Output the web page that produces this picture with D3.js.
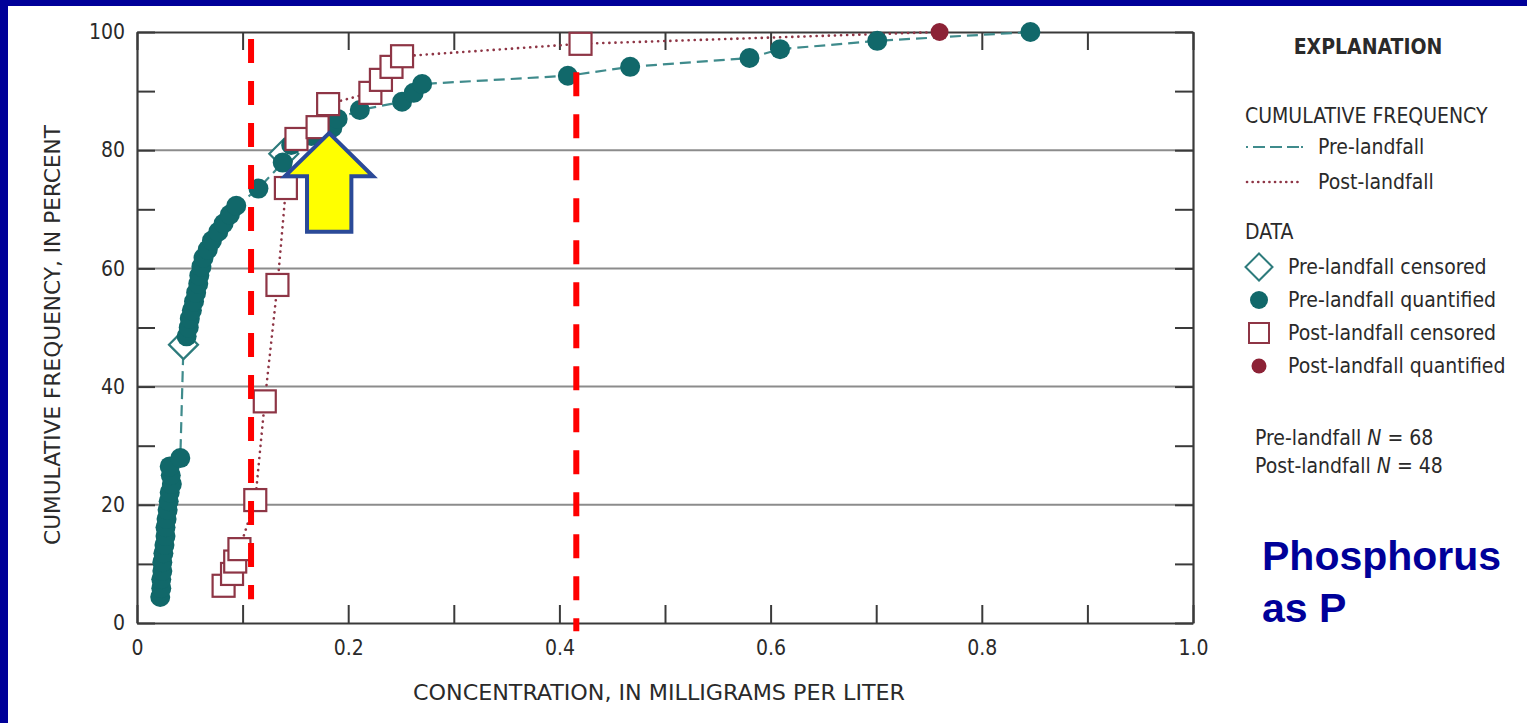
<!DOCTYPE html>
<html>
<head>
<meta charset="utf-8">
<script src="https://cdn.jsdelivr.net/npm/d3@7"></script>
<style>
  html, body { margin: 0; padding: 0; background: #000099; }
  svg { display: block; }
  .cond { font-family: "Liberation Sans Narrow", "DejaVu Sans Condensed", "Roboto Condensed", sans-serif; font-stretch: condensed; }
</style>
</head>
<body>
<svg id="chart" width="1527" height="723"></svg>
<script>
// ---------------- DATA ----------------
// Pre-landfall quantified (concentration mg/L, cumulative %)
const preQuantX = [0.022, 0.023, 0.023, 0.024, 0.024, 0.025, 0.026, 0.027, 0.027, 0.028, 0.029, 0.030, 0.031, 0.033, 0.032, 0.031, 0.041,
                   0.047, 0.049, 0.050, 0.052, 0.054, 0.056, 0.058, 0.059, 0.061, 0.063, 0.067, 0.071, 0.077, 0.082, 0.088, 0.094,
                   0.115, 0.138, 0.146, 0.165, 0.185, 0.190, 0.211, 0.251, 0.262, 0.270, 0.408, 0.467, 0.580, 0.609, 0.701, 0.846];
const preQuantY = [4.4, 5.9, 7.4, 8.8, 10.3, 11.8, 13.2, 14.7, 16.2, 17.6, 19.1, 20.6, 22.1, 23.5, 25.0, 26.5, 27.9,
                   48.5, 50.0, 51.5, 52.9, 54.4, 55.9, 57.4, 58.8, 60.3, 61.8, 63.2, 64.7, 66.2, 67.6, 69.1, 70.6,
                   73.5, 77.9, 80.9, 82.4, 83.8, 85.3, 86.8, 88.2, 89.7, 91.2, 92.6, 94.1, 95.6, 97.1, 98.5, 100];
// Pre-landfall censored
const preCensX = [0.044, 0.139];
const preCensY = [47.1, 79.4];
// Post-landfall censored
const postCensX = [0.082, 0.090, 0.093, 0.097, 0.112, 0.121, 0.133, 0.141, 0.151, 0.171, 0.181, 0.221, 0.231, 0.241, 0.251, 0.420];
const postCensY = [6.3, 8.3, 10.4, 12.5, 20.8, 37.5, 57.2, 73.6, 81.9, 83.9, 87.8, 89.7, 91.9, 94.1, 95.9, 98.0];
// Post-landfall quantified
const postQuantX = [0.760];
const postQuantY = [100];

// Axis ticks
const xTicks = [0, 0.1, 0.2, 0.3, 0.4, 0.5, 0.6, 0.7, 0.8, 0.9, 1.0];
const xLabels = ["0", "", "0.2", "", "0.4", "", "0.6", "", "0.8", "", "1.0"];
const yTicks = [0, 10, 20, 30, 40, 50, 60, 70, 80, 90, 100];
const yLabels = ["0", "", "20", "", "40", "", "60", "", "80", "", "100"];
const gridY = [20, 40, 60, 80];

// Annotations (data units)
const refLinesX = [0.108, 0.416];
const refLinesTop = [98.8, 93.2];
const refLinesBottom = [4.0, -1.4];
const arrowTip = [0.182, 82.9];
const arrowWingY = 75.6, arrowWingX = [0.140, 0.2235], arrowShaftX = [0.161, 0.203], arrowBottomY = 66.2;

const legendLines = ["Pre-landfall", "Post-landfall"];
const legendData = ["Pre-landfall censored", "Pre-landfall quantified", "Post-landfall censored", "Post-landfall quantified"];

// ---------------- DRAW ----------------
const TEAL = "#11686a", TEAL_LINE = "#3f8b8c", MAROON = "#8e3545", RED_DOT = "#8c2236", TEXT = "#2a2a2a", AXIS = "#3a3a3a";
const svg = d3.select("#chart");
svg.append("rect").attr("width", 1527).attr("height", 723).attr("fill", "#000099");
svg.append("rect").attr("x", 8).attr("y", 6).attr("width", 1519).attr("height", 717).attr("fill", "#ffffff");

const x = d3.scaleLinear().domain([0, 1]).range([137, 1193]);
const y = d3.scaleLinear().domain([0, 100]).range([623, 32]);

// grid
svg.append("g").selectAll("line").data(gridY).join("line")
  .attr("x1", x(0)).attr("x2", x(1)).attr("y1", d => y(d)).attr("y2", d => y(d))
  .attr("stroke", "#8c8c8c").attr("stroke-width", 2);

function styleAxis(g) {
  g.selectAll(".domain").attr("stroke", AXIS).attr("stroke-width", 2.2);
  g.selectAll(".tick line").attr("stroke", AXIS).attr("stroke-width", 2);
  g.selectAll(".tick text").attr("fill", TEXT).attr("class", "cond").style("font-size", "21px");
}
const gB = svg.append("g").attr("transform", `translate(0,${y(0)})`)
  .call(d3.axisBottom(x).tickValues(xTicks).tickSizeInner(-18).tickSizeOuter(0).tickPadding(17)
        .tickFormat((d, i) => xLabels[i]));
styleAxis(gB);
const gT = svg.append("g").attr("transform", `translate(0,${y(100)})`)
  .call(d3.axisTop(x).tickValues(xTicks).tickSizeInner(-18).tickSizeOuter(0).tickFormat(""));
styleAxis(gT);
const gL = svg.append("g").attr("transform", `translate(${x(0)},0)`)
  .call(d3.axisLeft(y).tickValues(yTicks).tickSizeInner(-18).tickSizeOuter(0).tickPadding(12)
        .tickFormat((d, i) => yLabels[i]));
styleAxis(gL);
const gR = svg.append("g").attr("transform", `translate(${x(1)},0)`)
  .call(d3.axisRight(y).tickValues(yTicks).tickSizeInner(-18).tickSizeOuter(0).tickFormat(""));
styleAxis(gR);
svg.selectAll("g.tick text").style("font-size", "21px").attr("fill", TEXT);

// axis titles
svg.append("text").attr("class", "cond").attr("x", 659).attr("y", 700)
  .attr("text-anchor", "middle").attr("fill", TEXT).style("font-size", "22px")
  .attr("textLength", 492).attr("lengthAdjust", "spacingAndGlyphs")
  .text("CONCENTRATION, IN MILLIGRAMS PER LITER");
svg.append("text").attr("class", "cond").attr("transform", "translate(60,335) rotate(-90)")
  .attr("text-anchor", "middle").attr("fill", TEXT).style("font-size", "22px")
  .attr("textLength", 420).attr("lengthAdjust", "spacingAndGlyphs")
  .text("CUMULATIVE FREQUENCY, IN PERCENT");

// lines
const pre = preQuantX.map((v, i) => ({ x: v, y: preQuantY[i] }))
  .concat(preCensX.map((v, i) => ({ x: v, y: preCensY[i] })))
  .sort((a, b) => a.y - b.y || a.x - b.x);
const post = postCensX.map((v, i) => ({ x: v, y: postCensY[i] }))
  .concat(postQuantX.map((v, i) => ({ x: v, y: postQuantY[i] })))
  .sort((a, b) => a.y - b.y || a.x - b.x);
const line = d3.line().x(d => x(d.x)).y(d => y(d.y));
svg.append("path").attr("d", line(pre)).attr("fill", "none").attr("stroke", TEAL_LINE)
  .attr("stroke-width", 2.2).attr("stroke-dasharray", "11,6");
svg.append("path").attr("d", line(post)).attr("fill", "none").attr("stroke", MAROON)
  .attr("stroke-width", 2.6).attr("stroke-dasharray", "0.1,6").attr("stroke-linecap", "round");

// markers
const diamond = (cx, cy, h) => `M${cx},${cy - h}L${cx + h},${cy}L${cx},${cy + h}L${cx - h},${cy}Z`;
svg.append("g").selectAll("path").data(preCensX).join("path")
  .attr("d", (d, i) => diamond(x(d), y(preCensY[i]), 14.5))
  .attr("fill", "#fff").attr("stroke", "#2d7b7c").attr("stroke-width", 2.2);
svg.append("g").selectAll("circle").data(preQuantX).join("circle")
  .attr("cx", d => x(d)).attr("cy", (d, i) => y(preQuantY[i])).attr("r", 10).attr("fill", TEAL);
svg.append("g").selectAll("rect").data(postCensX).join("rect")
  .attr("x", d => x(d) - 11).attr("y", (d, i) => y(postCensY[i]) - 11)
  .attr("width", 22).attr("height", 22).attr("fill", "#fff").attr("stroke", MAROON).attr("stroke-width", 2.2);
svg.append("g").selectAll("circle").data(postQuantX).join("circle")
  .attr("cx", d => x(d)).attr("cy", (d, i) => y(postQuantY[i])).attr("r", 9).attr("fill", RED_DOT);

// red reference lines
svg.append("g").selectAll("line").data(refLinesX).join("line")
  .attr("x1", d => x(d)).attr("x2", d => x(d))
  .attr("y1", (d, i) => y(refLinesTop[i])).attr("y2", (d, i) => y(refLinesBottom[i]))
  .attr("stroke", "#ff0000").attr("stroke-width", 6).attr("stroke-dasharray", "24,18");

// yellow arrow
const ap = [
  [x(arrowTip[0]), y(arrowTip[1])],
  [x(arrowWingX[1]), y(arrowWingY)],
  [x(arrowShaftX[1]), y(arrowWingY)],
  [x(arrowShaftX[1]), y(arrowBottomY)],
  [x(arrowShaftX[0]), y(arrowBottomY)],
  [x(arrowShaftX[0]), y(arrowWingY)],
  [x(arrowWingX[0]), y(arrowWingY)]
];
svg.append("path").attr("d", "M" + ap.map(p => p.join(",")).join("L") + "Z")
  .attr("fill", "#ffff00").attr("stroke", "#2b4a98").attr("stroke-width", 4).attr("stroke-linejoin", "miter");

// legend
const lg = svg.append("g").attr("class", "cond").attr("fill", TEXT).style("font-size", "21px");
lg.append("text").attr("x", 1368).attr("y", 47).attr("dy", "0.35em").attr("text-anchor", "middle")
  .style("font-weight", "bold").style("font-size", "21px").text("EXPLANATION");
lg.append("text").attr("x", 1245).attr("y", 116).attr("dy", "0.35em").text("CUMULATIVE FREQUENCY");
lg.append("line").attr("x1", 1246).attr("x2", 1303).attr("y1", 147).attr("y2", 147)
  .attr("stroke", TEAL_LINE).attr("stroke-width", 2.2).attr("stroke-dasharray", "2,5,12,5,12,5,12");
lg.append("line").attr("x1", 1247).attr("x2", 1303).attr("y1", 182).attr("y2", 182)
  .attr("stroke", MAROON).attr("stroke-width", 2.6).attr("stroke-dasharray", "0.1,5.5").attr("stroke-linecap", "round");
lg.selectAll("text.ll").data(legendLines).join("text").attr("class", "ll")
  .attr("x", 1318).attr("y", (d, i) => 147 + i * 35).attr("dy", "0.35em").text(d => d);
lg.append("text").attr("x", 1245).attr("y", 232).attr("dy", "0.35em").text("DATA");
lg.append("path").attr("d", diamond(1259, 267, 13.5)).attr("fill", "#fff").attr("stroke", "#2d7b7c").attr("stroke-width", 2);
lg.append("circle").attr("cx", 1259).attr("cy", 300).attr("r", 9).attr("fill", TEAL);
lg.append("rect").attr("x", 1249).attr("y", 323).attr("width", 20).attr("height", 20)
  .attr("fill", "#fff").attr("stroke", MAROON).attr("stroke-width", 2);
lg.append("circle").attr("cx", 1259).attr("cy", 366).attr("r", 7.5).attr("fill", RED_DOT);
lg.selectAll("text.ld").data(legendData).join("text").attr("class", "ld")
  .attr("x", 1288).attr("y", (d, i) => 267 + i * 33).attr("dy", "0.35em").text(d => d);
const n1 = lg.append("text").attr("x", 1255).attr("y", 438).attr("dy", "0.35em");
n1.append("tspan").text("Pre-landfall ");
n1.append("tspan").style("font-style", "italic").text("N");
n1.append("tspan").text(" = 68");
const n2 = lg.append("text").attr("x", 1255).attr("y", 466).attr("dy", "0.35em");
n2.append("tspan").text("Post-landfall ");
n2.append("tspan").style("font-style", "italic").text("N");
n2.append("tspan").text(" = 48");

// slide label
const ph = svg.append("text").attr("fill", "#000099")
  .style("font-family", "'Liberation Sans', Arial, sans-serif").style("font-weight", "bold").style("font-size", "41px");
ph.append("tspan").attr("x", 1262).attr("y", 570).text("Phosphorus");
ph.append("tspan").attr("x", 1262).attr("y", 622).text("as P");
</script>
</body>
</html>
